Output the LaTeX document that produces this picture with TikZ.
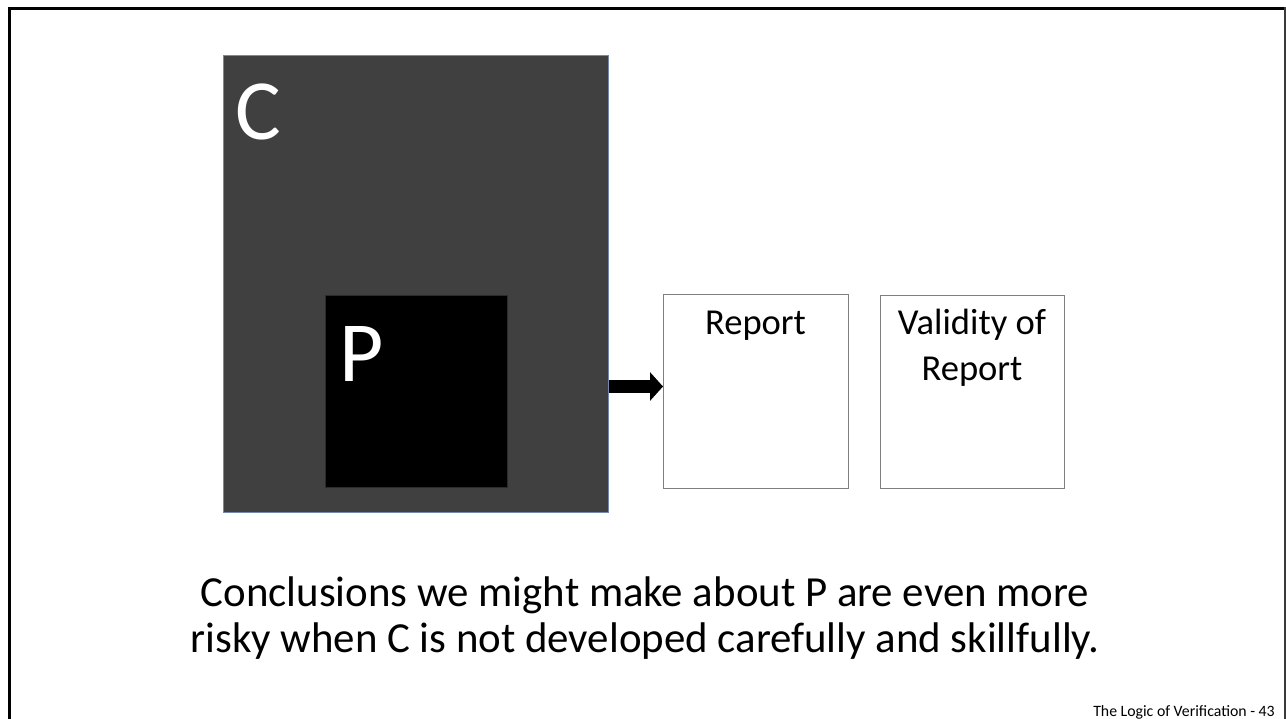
\documentclass[tikz,border=0pt]{standalone}
\usepackage{fontspec}
\setmainfont{Carlito}
\usetikzlibrary{arrows.meta}
\newcommand\pxu{0.7465pt}
\definecolor{cfill}{HTML}{404040}
\definecolor{cedge}{HTML}{7489AC}
\definecolor{pedge}{HTML}{2B2B2B}
\definecolor{boxedge}{HTML}{7F7F7F}
\definecolor{frameedge}{HTML}{3A3A3A}
\tikzset{
  slidebox/.style={rectangle, inner sep=0pt, anchor=north west},
  reportbox/.style={slidebox, draw=boxedge, line width=0.9pt, fill=white},
  biglabel/.style={inner sep=0pt, anchor=base west, text=white,
                   font=\fontsize{64}{70}\selectfont},
  boxtext/.style={inner sep=0pt, anchor=base, align=center,
                  font=\fontsize{27.3}{34.3}\selectfont},
  flow/.style={line width=13*\pxu,
               -{Triangle[width=28*\pxu, length=13*\pxu]}}
}
\begin{document}
\begin{tikzpicture}[x=\pxu, y=-\pxu]
  \useasboundingbox (0,0) rectangle (1286,719);
  \fill[white] (0,0) rectangle (1286,719);

  % slide frame
  \draw[line width=3*\pxu, black] (9,719) -- (9,8.7) -- (1284,8.7);
  \draw[line width=1.3*\pxu, frameedge] (1285,7.5) -- (1285,719);

  % outer component C with inner program P
  \node[slidebox, fill=cfill, draw=cedge, line width=0.9pt,
        minimum width=385*\pxu, minimum height=457*\pxu] (C) at (223,55) {};
  \node[slidebox, fill=black, draw=pedge, line width=0.8pt,
        minimum width=182*\pxu, minimum height=192*\pxu] (P) at (325,295) {};
  \node[biglabel] (Clab) at (235,140) {C};
  \node[biglabel] (Plab) at (339,381) {P};

  % report and its validity
  \node[reportbox, minimum width=185*\pxu, minimum height=194*\pxu] (R) at (663,294) {};
  \node[reportbox, minimum width=184*\pxu, minimum height=193*\pxu] (V) at (880,295) {};
  \node[boxtext] (Rlab) at (755.5,334) {Report};
  \node[boxtext] (Vlab) at (972,380) {Validity of\\Report};

  % output arrow from C to the report
  \coordinate (ay) at (0,386.5);
  \draw[flow] (C.east |- ay) -- (R.west |- ay);

  % conclusion text
  \node[inner sep=0pt, anchor=base, align=center,
        font=\fontsize{32}{33.6}\selectfont] (concl) at (645,652)
        {Conclusions we might make about P are even more\\
         risky when C is not developed carefully and skillfully.};

  % footer
  \node[inner sep=0pt, anchor=base east, font=\fontsize{11.8}{14}\selectfont]
        (foot) at (1275,716) {The Logic of Verification - 43};
\end{tikzpicture}
\end{document}
